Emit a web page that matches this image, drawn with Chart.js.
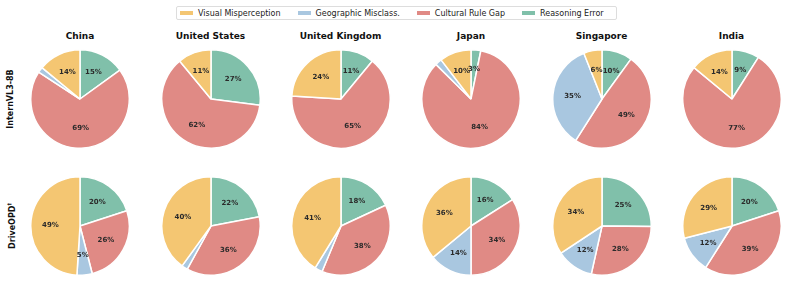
<!DOCTYPE html>
<html>
<head>
<meta charset="utf-8">
<script src="https://cdn.jsdelivr.net/npm/chart.js@4.4.1/dist/chart.umd.min.js"></script>
<style>
    body { margin: 0; background: #fff; font-family: "DejaVu Sans", sans-serif; }
    #wrap { position: relative; width: 787px; height: 302px; overflow: hidden; }
    .pie { position: absolute; }
    .title { position: absolute; width: 130px; text-align: center; font-weight: bold; font-size: 9px; color: #111; line-height: 12px; }
    .rowLabel { position: absolute; font-weight: bold; font-size: 8px; color: #111; white-space: nowrap; transform: translate(-50%, -50%) rotate(-90deg); line-height: 10px; }
    .rowLabel sup { font-size: 5px; vertical-align: 4px; }
    #legend { position: absolute; left: 176px; top: 6px; width: 441px; height: 14px; border: 1px solid #ddd; border-radius: 2px;
        display: flex; align-items: center; font-size: 8px; color: #222; box-sizing: border-box; padding-left: 3px; }
    .item { display: flex; align-items: center; margin-right: 17px; white-space: nowrap; }
    .patch { width: 13px; height: 4px; margin-right: 5px; }
</style>
</head>
<body>
<div id="wrap">
    <div id="legend"></div>
</div>
<script>
const Countries = ["China", "United States", "United Kingdom", "Japan", "Singapore", "India"];
const Models = ["InternVL3-8B", "DriveOPD"];
const Categories = ["Visual Misperception", "Geographic Misclass.", "Cultural Rule Gap", "Reasoning Error"];
const CategoryColors = ["#F4C672", "#A9C7E0", "#E08A85", "#80C0AA"];

// InternVL3-8B (percent of errors)
const InternVisual = [14, 11, 24, 10.4, 6, 14];
const InternGeographic = [1.8, 0, 0, 2.2, 35, 0];
const InternCultural = [69, 62, 65, 84.2, 49, 77];
const InternReasoning = [15, 27, 11, 3.2, 10, 9];

// DriveOPD
const DriveVisual = [49, 40, 41, 36, 34.3, 29];
const DriveGeographic = [5, 2, 2.5, 14, 12.2, 12];
const DriveCultural = [26, 36, 38, 34, 28.3, 39];
const DriveReasoning = [20, 22, 18, 16, 25.2, 20];

const ColumnCenters = [80, 210.5, 340.5, 471, 601.5, 731.5];
const RowCenters = [99, 225.5];

let jFPctLabels = {
    id: "pctLabels",
    afterDatasetsDraw: (chart) => {
        let ctx = chart.ctx;
        let meta = chart.getDatasetMeta(0);
        let values = chart.data.datasets[0].data;
        let total = values.reduce((a, b) => a + b, 0);
        ctx.save();
        ctx.font = "bold 7px 'DejaVu Sans'";
        ctx.fillStyle = "#2b2b2b";
        ctx.textAlign = "center";
        ctx.textBaseline = "middle";
        meta.data.forEach((arc, i) => {
            let pct = values[i] / total * 100;
            if (pct < 3) return;
            let p = arc.getProps(["x", "y", "startAngle", "endAngle", "outerRadius"], true);
            let mid = (p.startAngle + p.endAngle) / 2;
            let r = p.outerRadius * 0.6;
            ctx.fillText(Math.round(pct) + "%", p.x + Math.cos(mid) * r, p.y + Math.sin(mid) * r);
        });
        ctx.restore();
    }
};

let jFMakePie = ({ inValues, inX, inY }) => {
    let wrap = document.getElementById("wrap");
    let canvas = document.createElement("canvas");
    canvas.className = "pie";
    canvas.width = 100;
    canvas.height = 100;
    canvas.style.left = (inX - 50) + "px";
    canvas.style.top = (inY - 50) + "px";
    wrap.appendChild(canvas);

    // clockwise from 12 o'clock: Reasoning, Cultural, Geographic, Visual
    let order = [3, 2, 1, 0];

    new Chart(canvas, {
        type: "pie",
        data: {
            labels: order.map(i => Categories[i]),
            datasets: [{
                data: order.map(i => inValues[i]),
                backgroundColor: order.map(i => CategoryColors[i]),
                borderColor: "#ffffff",
                borderWidth: 1.5,
                hoverOffset: 0
            }]
        },
        options: {
            responsive: false,
            animation: false,
            events: [],
            layout: { padding: 0 },
            plugins: { legend: { display: false }, tooltip: { enabled: false } }
        },
        plugins: [jFPctLabels]
    });
};

const StartFunc = () => {
    let wrap = document.getElementById("wrap");
    let legend = document.getElementById("legend");

    Categories.forEach((name, i) => {
        let item = document.createElement("div");
        item.className = "item";
        item.innerHTML = '<span class="patch" style="background:' + CategoryColors[i] + '"></span>' + name;
        legend.appendChild(item);
    });

    Countries.forEach((country, c) => {
        let t = document.createElement("div");
        t.className = "title";
        t.textContent = country;
        t.style.left = (ColumnCenters[c] - 65) + "px";
        t.style.top = "30px";
        wrap.appendChild(t);

        jFMakePie({ inValues: [InternVisual[c], InternGeographic[c], InternCultural[c], InternReasoning[c]], inX: ColumnCenters[c], inY: RowCenters[0] });
        jFMakePie({ inValues: [DriveVisual[c], DriveGeographic[c], DriveCultural[c], DriveReasoning[c]], inX: ColumnCenters[c], inY: RowCenters[1] });
    });

    Models.forEach((model, r) => {
        let l = document.createElement("div");
        l.className = "rowLabel";
        l.innerHTML = r === 1 ? model + "<sup>†</sup>" : model;
        l.style.left = "11px";
        l.style.top = RowCenters[r] + "px";
        wrap.appendChild(l);
    });
};

StartFunc();
</script>
</body>
</html>
